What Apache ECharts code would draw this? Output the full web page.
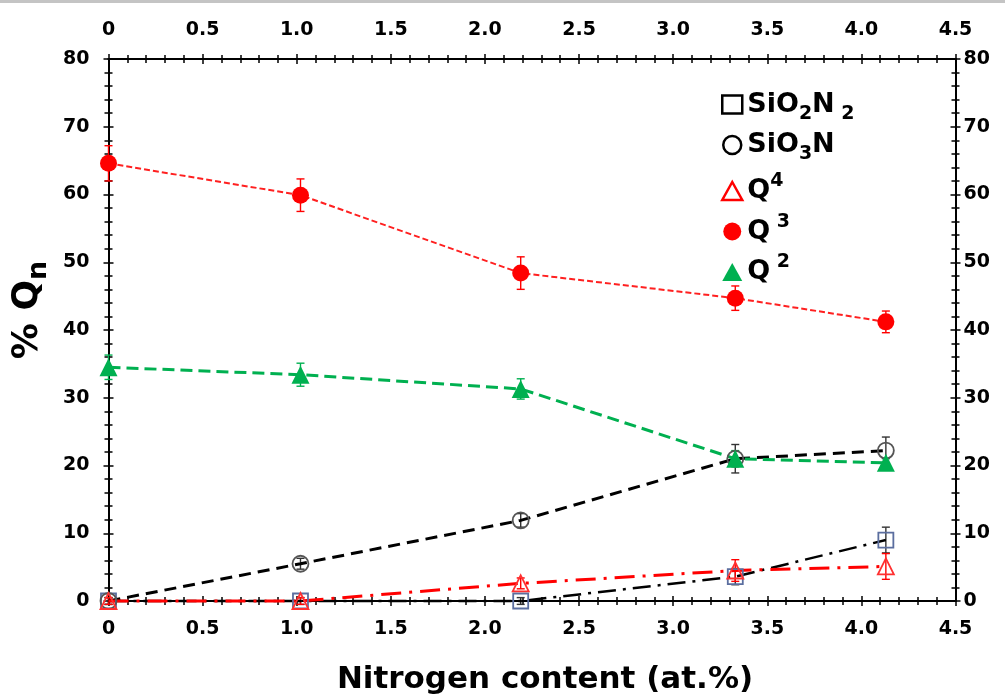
<!DOCTYPE html>
<html>
<head>
<meta charset="utf-8">
<script src="https://cdn.jsdelivr.net/npm/echarts@6/dist/echarts.min.js"></script>
<style>
html,body{margin:0;padding:0;background:#fff;}
#chart{width:1005px;height:700px;}
</style>
</head>
<body>
<div id="chart"></div>
<script>
// ---- data ----
const nitrogen = [0, 1.02, 2.19, 3.33, 4.13];
const q3 = [64.6, 59.9, 48.4, 44.7, 41.2];
const q3Err = [2.6, 2.4, 2.4, 1.8, 1.6];
const q2 = [34.5, 33.4, 31.3, 21.0, 20.4];
const q2Err = [1.8, 1.7, 1.5, 1.2, 0.6];
const sio3n = [0, 5.5, 11.9, 21.0, 22.2];
const sio3nErr = [0.5, 0.8, 1.0, 2.1, 2.0];
const sio2n2 = [0, 0, 0, 3.6, 9.0];
const sio2n2Err = [0.5, 0.5, 0.5, 1.2, 1.9];
const q4 = [0, 0, 2.6, 4.5, 5.1];
const q4Err = [0.5, 0.5, 0.8, 1.6, 1.9];
const seriesNames = ['SiO2N2', 'SiO3N', 'Q4', 'Q3', 'Q2'];
const xTitle = 'Nitrogen content (at.%)';

const FONT = 'DejaVu Sans';
const chart = echarts.init(document.getElementById('chart'), null, {renderer: 'canvas'});

function pts(ys) { return ys.map((y, i) => [nitrogen[i], y]); }

function xAxisDef(position, inside, labels) {
  return {
    type: 'value', position: position, min: 0, max: 4.5, interval: 0.5,
    splitLine: {show: false},
    axisLine: {show: true, onZero: false, lineStyle: {color: '#000', width: 2}},
    axisTick: {show: true, inside: inside, length: 5, lineStyle: {color: '#000', width: 1.5}},
    minorTick: {show: true, splitNumber: 5, length: 4, lineStyle: {color: '#000', width: 1.5}},
    axisLabel: {
      show: labels, color: '#000', fontFamily: FONT, fontWeight: 'bold', fontSize: 19,
      margin: position === 'top' ? 19 : 19,
      formatter: v => (v === 0 ? '0' : v.toFixed(1))
    }
  };
}
function yAxisDef(position, inside, labels) {
  return {
    type: 'value', position: position, min: 0, max: 80, interval: 10,
    splitLine: {show: false},
    axisLine: {show: true, onZero: false, lineStyle: {color: '#000', width: 2}},
    axisTick: {show: true, inside: inside, length: 5, lineStyle: {color: '#000', width: 1.5}},
    minorTick: {show: true, splitNumber: 5, length: 4, lineStyle: {color: '#000', width: 1.5}},
    axisLabel: {
      show: labels, color: '#000', fontFamily: FONT, fontWeight: 'bold', fontSize: 19,
      margin: position === 'right' ? 8 : 19
    }
  };
}

function errSeries(name, ys, errs, color) {
  return {
    type: 'custom', name: name, xAxisIndex: 0, yAxisIndex: 0, silent: true, z: 3,
    data: ys.map((y, i) => [nitrogen[i], y - errs[i], y + errs[i]]),
    encode: {x: 0, y: [1, 2]},
    renderItem: function (params, api) {
      const x = api.value(0);
      const lo = api.coord([x, api.value(1)]);
      const hi = api.coord([x, api.value(2)]);
      const w = 4;
      const st = {stroke: color, lineWidth: 1.4};
      return {type: 'group', children: [
        {type: 'line', shape: {x1: lo[0], y1: lo[1], x2: hi[0], y2: hi[1]}, style: st},
        {type: 'line', shape: {x1: lo[0] - w, y1: lo[1], x2: lo[0] + w, y2: lo[1]}, style: st},
        {type: 'line', shape: {x1: hi[0] - w, y1: hi[1], x2: hi[0] + w, y2: hi[1]}, style: st}
      ]};
    }
  };
}

const xAxes = [xAxisDef('bottom', false, true), xAxisDef('bottom', true, false),
               xAxisDef('top', false, true), xAxisDef('top', true, false)];
xAxes[0].name = xTitle;
xAxes[0].nameLocation = 'middle';
xAxes[0].nameGap = 63;
xAxes[0].nameTextStyle = {color: '#000', fontFamily: FONT, fontWeight: 'bold', fontSize: 31, padding: [0, 0, 0, 26]};

const yAxes = [yAxisDef('left', false, true), yAxisDef('left', true, false),
               yAxisDef('right', false, true), yAxisDef('right', true, false)];
yAxes[0].name = '{a|% Q}{s|n}';
yAxes[0].nameLocation = 'middle';
yAxes[0].nameGap = 46;
yAxes[0].nameTextStyle = {
  color: '#000', fontFamily: FONT, fontWeight: 'bold', padding: [0, 0, 0, 40],
  rich: {
    a: {fontFamily: FONT, fontWeight: 'bold', fontSize: 36, lineHeight: 50, color: '#000'},
    s: {fontFamily: FONT, fontWeight: 'bold', fontSize: 27, verticalAlign: 'bottom', color: '#000'}
  }
};

const legendLabels = {
  'SiO2N2': '{b|SiO}{sub|2}{b|N}{sub| 2}',
  'SiO3N': '{b|SiO}{sub|3}{b|N}',
  'Q4': '{b|Q}{sup|4}',
  'Q3': '{b|Q}{sup| 3}',
  'Q2': '{b|Q}{sup| 2}'
};

const option = {
  backgroundColor: '#fff',
  animation: false,
  grid: {left: 108.5, right: 49.5, top: 59, bottom: 97.5, containLabel: false},
  xAxis: xAxes,
  yAxis: yAxes,
  legend: {
    orient: 'vertical', left: 716, top: 86, itemGap: 8, itemWidth: 20, itemHeight: 18,
    selectedMode: false,
    formatter: name => legendLabels[name],
    textStyle: {
      color: '#000', fontFamily: FONT, fontWeight: 'bold', fontSize: 27,
      rich: {
        b: {fontFamily: FONT, fontWeight: 'bold', fontSize: 27, lineHeight: 38, color: '#000'},
        sub: {fontFamily: FONT, fontWeight: 'bold', fontSize: 19, verticalAlign: 'bottom', color: '#000'},
        sup: {fontFamily: FONT, fontWeight: 'bold', fontSize: 19, verticalAlign: 'top', color: '#000'}
      }
    },
    data: [
      {name: 'SiO2N2', icon: 'rect', itemStyle: {color: 'rgba(0,0,0,0)', borderColor: '#000', borderWidth: 2.5}},
      {name: 'SiO3N', icon: 'circle', itemStyle: {color: 'rgba(0,0,0,0)', borderColor: '#000', borderWidth: 2.5}},
      {name: 'Q4', icon: 'triangle', itemStyle: {color: 'rgba(0,0,0,0)', borderColor: '#ff0000', borderWidth: 2.5}},
      {name: 'Q3', icon: 'circle', itemStyle: {color: '#ff0000', borderWidth: 0}},
      {name: 'Q2', icon: 'triangle', itemStyle: {color: '#00b050', borderWidth: 0}}
    ]
  },
  graphic: [
    {type: 'rect', left: 0, top: 0, shape: {width: 1005, height: 3}, style: {fill: '#c4c4c4'}, silent: true}
  ],
  series: [
    errSeries('e1', sio2n2, sio2n2Err, '#333'),
    errSeries('e2', sio3n, sio3nErr, '#333'),
    errSeries('e3', q4, q4Err, '#ff0000'),
    errSeries('e4', q3, q3Err, '#ff0000'),
    errSeries('e5', q2, q2Err, '#00b050'),
    {
      name: 'SiO2N2', type: 'line', data: pts(sio2n2), clip: false, z: 4,
      symbol: 'rect', symbolSize: 15,
      itemStyle: {color: 'rgba(0,0,0,0)', borderColor: '#5b6e9f', borderWidth: 1.8},
      lineStyle: {color: '#000', width: 2.5, type: [18, 7, 3, 7]}
    },
    {
      name: 'SiO3N', type: 'line', data: pts(sio3n), clip: false, z: 4,
      symbol: 'circle', symbolSize: 16,
      itemStyle: {color: 'rgba(0,0,0,0)', borderColor: '#555', borderWidth: 1.8},
      lineStyle: {color: '#000', width: 3, type: [12, 7]}
    },
    {
      name: 'Q4', type: 'line', data: pts(q4), clip: false, z: 4,
      symbol: 'triangle', symbolSize: 16,
      itemStyle: {color: 'rgba(0,0,0,0)', borderColor: '#ff3030', borderWidth: 1.8},
      lineStyle: {color: '#ff0000', width: 3, type: [20, 8, 3, 8]}
    },
    {
      name: 'Q3', type: 'line', data: pts(q3), clip: false, z: 4,
      symbol: 'circle', symbolSize: 17,
      itemStyle: {color: '#ff0000'},
      lineStyle: {color: '#ff2020', width: 2, type: [6, 3]}
    },
    {
      name: 'Q2', type: 'line', data: pts(q2), clip: false, z: 4,
      symbol: 'triangle', symbolSize: 18,
      itemStyle: {color: '#00b050'},
      lineStyle: {color: '#00b050', width: 3, type: [12, 6]}
    }
  ]
};
chart.setOption(option);
</script>
</body>
</html>
